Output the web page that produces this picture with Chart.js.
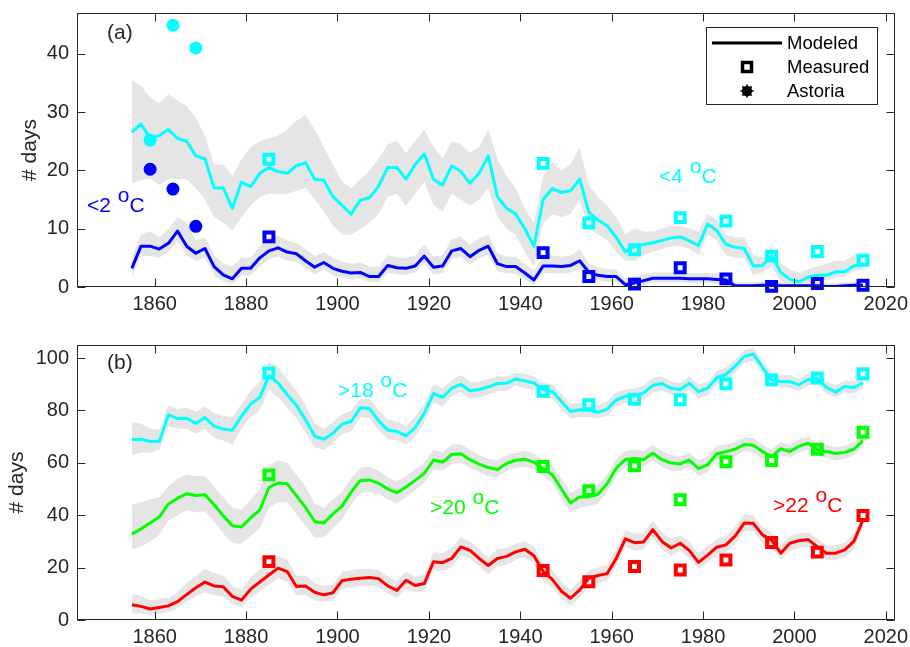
<!DOCTYPE html>
<html>
<head>
<meta charset="utf-8">
<script src="https://cdn.jsdelivr.net/npm/chart.js@4.4.1/dist/chart.umd.min.js"></script>
<style>
  html, body { margin: 0; padding: 0; background: #fff; }
  #wrap { position: relative; width: 910px; height: 647px; }
  canvas { position: absolute; left: 0; }
</style>
</head>
<body>
<div id="wrap">
  <canvas id="coldChart" width="910" height="320" style="top:0"></canvas>
  <canvas id="warmChart" width="910" height="327" style="top:320px"></canvas>
</div>
<script>
// modeled series, one value every second year
const years = [
  1855, 1857, 1859, 1861, 1863, 1865, 1867, 1869, 1871, 1873,
  1875, 1877, 1879, 1881, 1883, 1885, 1887, 1889, 1891, 1893,
  1895, 1897, 1899, 1901, 1903, 1905, 1907, 1909, 1911, 1913,
  1915, 1917, 1919, 1921, 1923, 1925, 1927, 1929, 1931, 1933,
  1935, 1937, 1939, 1941, 1943, 1945, 1947, 1949, 1951, 1953,
  1955, 1957, 1959, 1961, 1963, 1965, 1967, 1969, 1971, 1973,
  1975, 1977, 1979, 1981, 1983, 1985, 1987, 1989, 1991, 1993,
  1995, 1997, 1999, 2001, 2003, 2005, 2007, 2009, 2011, 2013,
  2015
];

// (a) days below 2 oC
const below2Mid = [
  3.2, 7, 7, 6.5, 7.5, 9.6, 7, 5.8, 6.6, 3.5,
  2.1, 1.4, 3.2, 3.2, 5, 6.2, 6.7, 6, 5.7, 4.5,
  3.4, 4.2, 3.2, 2.7, 2.4, 2.5, 1.8, 1.8, 3.7, 3.3,
  3.2, 3.6, 5.3, 3.4, 3.6, 6.2, 6.6, 5.2, 6.3, 7,
  4, 3.5, 3.5, 2.4, 1.2, 3.6, 3.6, 3.5, 3.7, 4.5,
  2.5, 2, 1.8, 1.8, 0.4, 0.7, 1.1, 1.5, 1.5, 1.5,
  1.5, 1.4, 1.4, 1.4, 1.3, 1.2, 0.2, 0.2, 0.2, 0.3,
  0.3, 0.2, 0.2, 0.2, 0.2, 0.2, 0.1, 0.1, 0.2, 0.3,
  0.3
];
const below2Hi = [
  4.9, 9, 9.5, 8.5, 10, 12, 11, 8, 8.5, 5.5,
  4, 3.5, 5, 5, 7, 8.5, 8.8, 8, 7.5, 6.5,
  5.3, 6, 5, 4.4, 4, 4.2, 3.5, 3.5, 5.5, 5,
  5, 5.4, 7.3, 5.2, 5.5, 8.2, 8.6, 7.2, 8.3, 9,
  5.8, 5.2, 5.2, 4, 2.8, 5.3, 5.4, 5.2, 5.4, 6.4,
  4, 3.4, 3.1, 3, 1.5, 1.8, 2.2, 2.5, 2.5, 2.5,
  2.5, 2.4, 2.4, 2.4, 2.3, 2.1, 0.8, 0.8, 0.8, 0.9,
  0.9, 0.8, 0.8, 0.8, 0.8, 0.8, 0.6, 0.6, 0.8, 0.9,
  0.9
];
const below2Lo = [
  1.8, 5.3, 5.3, 5, 6, 7.8, 5.5, 4.4, 5, 2,
  1, 0.5, 2, 2, 3.5, 4.8, 5.2, 4.5, 4.3, 3.2,
  2.2, 3, 2, 1.6, 1.3, 1.4, 0.9, 0.9, 2.5, 2.2,
  2.1, 2.5, 4, 2.2, 2.4, 4.8, 5.2, 3.9, 4.9, 5.5,
  2.7, 2.3, 2.3, 1.3, 0.3, 2.4, 2.4, 2.3, 2.5, 3.1,
  1.5, 1.1, 0.9, 0.9, 0, 0.1, 0.4, 0.8, 0.8, 0.8,
  0.8, 0.7, 0.7, 0.7, 0.6, 0.5, 0, 0, 0, 0,
  0, 0, 0, 0, 0, 0, 0, 0, 0, 0,
  0
];

// (a) days below 4 oC
const below4Mid = [
  26.5, 28, 25.5, 26, 27, 25.5, 25, 22.5, 22, 17,
  17, 13.5, 18, 17.2, 19.5, 20.5, 19.8, 19.5, 20.8, 21.3,
  18.5, 18.3, 15.5, 14, 12.5, 14.9, 15.3, 17.3, 20.5, 20.5,
  18.5, 21, 22.8, 18.5, 17.5, 20.8, 19.8, 17.8, 19.5, 22.5,
  15.5, 13.5, 12.5, 10, 7, 15, 16.9, 16.2, 16.5, 18.5,
  12.8, 11.5, 10.5, 8.5, 6, 7, 7.3, 7.6, 8, 8.4,
  8.6, 7.9, 7.1, 10.8, 9.7, 7.3, 6.8, 6.6, 3.6, 3.7,
  5.4, 2.5, 1.3, 0.9, 1.7, 2, 2, 2.6, 2.6, 3.6,
  4
];
const below4Hi = [
  35.5, 34.5, 32.5, 31.5, 33, 32, 31, 29, 26, 21,
  21, 19, 22, 24, 25, 25.5, 26, 27, 28.5, 29.5,
  27, 24, 21, 18, 17, 18.5, 20, 22, 24.5, 25,
  23, 25, 27, 24, 22, 25, 24.5, 23, 24, 27,
  22, 19, 17, 13.5, 11, 19, 21.5, 20, 21, 24,
  17.5, 15.5, 14, 12, 9, 10, 9.5, 9.5, 10, 10.5,
  10.5, 10, 9.5, 12.5, 11.5, 9, 8.5, 8.5, 5.5, 5,
  7, 4, 3, 2.5, 3, 3.5, 4, 4.5, 4.5, 5.5,
  5.8
];
const below4Lo = [
  17.8, 18.3, 18.6, 17.5, 18.5, 18.5, 18.5, 17, 15, 12,
  11, 9.7, 12, 14, 15.5, 16, 16, 16, 16.5, 17,
  15, 13, 10.5, 9, 9, 10, 11, 12.5, 15.5, 16,
  14, 16, 18, 14, 13, 16, 15, 14, 15, 17,
  12, 10, 9, 6, 3.5, 11, 12.5, 12, 12.5, 15,
  10, 9, 8, 6, 4.5, 4.5, 5.5, 6, 6.5, 7,
  7, 6.5, 5.5, 9, 8, 5.5, 5, 5, 2, 2.5,
  3.5, 1, 0.3, 0.3, 0.8, 1, 1.2, 1.6, 1.8, 2.7,
  3
];

// (b) days above 18 oC
const above18Mid = [
  68.8, 69, 68.2, 68.2, 78.3, 76.9, 77, 75, 77.3, 74,
  72.9, 72.5, 77.8, 82.4, 85, 93.2, 90.5, 86, 82, 76.5,
  70.2, 69, 71.3, 74.8, 75.8, 81, 80.8, 76, 72.5, 72,
  70.3, 73.5, 79, 86.5, 85, 88.5, 90, 87.5, 88, 89,
  90.3, 90.4, 92, 91.3, 90.5, 87.9, 87.3, 83.4, 79.6, 80.3,
  80.2, 79.3, 80.5, 84, 85.4, 85.6, 86.7, 89.6, 90.3, 88.5,
  88, 90.4, 87.2, 88.5, 92.5, 93.8, 96.8, 100.6, 101.5, 96.5,
  91.7, 91.1, 91, 89.8, 91.8, 92.2, 88.8, 87, 89.2, 88.7,
  90.6
];
const above18Hi = [
  75.5, 75, 73, 72.5, 82, 80.5, 81, 79.5, 81.5, 79,
  78, 77.5, 82.5, 87.5, 91, 98.5, 96.5, 92, 87.5, 82,
  75, 73, 75.5, 78.5, 80, 84.5, 84.5, 80, 76.5, 76,
  74, 77.5, 82.5, 90, 88.5, 91.5, 93.5, 91, 91, 92,
  93, 93, 94.5, 94, 93, 90.5, 90, 86.5, 82.5, 83,
  82.5, 82, 83.5, 87, 88, 88.5, 89.5, 92.5, 93, 91,
  90.5, 93, 90, 91, 95, 96.5, 99.5, 103, 104, 99,
  94.5, 93.5, 93.5, 92, 94, 94.5, 91, 89.5, 91.5, 91,
  93
];
const above18Lo = [
  63, 64, 64, 65, 74, 73, 73, 71, 73, 69.5,
  68.5, 67, 73, 77.5, 80, 88, 85, 81, 77, 71.5,
  66, 65, 67.5, 71, 72, 77.5, 77, 72.5, 69, 68.5,
  67, 70, 75.5, 83, 81.5, 85.5, 87, 84.5, 85, 86,
  87.5, 87.5, 89.5, 88.5, 88, 85, 84.5, 80.5, 77, 77.5,
  77.5, 77, 78, 81.5, 83, 83, 84, 87, 87.5, 86,
  85.5, 88, 84.5, 86, 90, 91, 94.5, 98, 99, 94,
  89.5, 89, 88.5, 87.5, 89.5, 90, 86.5, 85, 87, 86.5,
  88.5
];

// (b) days above 20 oC
const above20Mid = [
  32.8, 34.8, 37, 39.3, 44.3, 46.5, 48.2, 47.5, 47.8, 44,
  39.8, 36, 35.5, 39, 42, 50.6, 52.3, 52, 47.5, 43,
  37.6, 37, 40.5, 43.5, 48.8, 53.3, 53.5, 52.2, 50, 48.6,
  50.8, 53.3, 56, 61, 60.3, 63.2, 63.5, 61.2, 59.5, 58.2,
  57.5, 59.8, 61, 61.4, 60.2, 57.8, 55.5, 50, 44.7, 47,
  47.1, 48, 52, 58, 61.3, 61.7, 61.3, 63.7, 61.2, 59.9,
  59.6, 61.1, 57.8, 59.3, 63.5, 64.3, 65.2, 67, 66.7, 64.3,
  62.4, 65.4, 64.3, 66.4, 67.5, 65, 64.3, 63.6, 64, 65.2,
  68.5
];
const above20Hi = [
  44, 45, 46, 47, 51, 54, 55.5, 55, 55, 51,
  47, 43, 42, 46, 50, 59, 61, 60, 55.5, 51,
  44.5, 43, 46, 49, 54, 58, 58.5, 57, 54.5, 53,
  55, 57.5, 60, 65, 64, 67, 67, 65, 63, 61.5,
  61, 63, 64, 64.5, 63.5, 61, 59, 54, 48.5, 50.5,
  50.5, 51.5, 55.5, 61.5, 64.5, 65, 64.5, 67, 64.5, 63,
  62.5, 64, 61, 62.5, 66.5, 67, 68, 70, 69.5, 67,
  65, 68, 67, 69, 70, 67.5, 67, 66, 66.5, 68,
  71
];
const above20Lo = [
  27, 28, 30, 32.5, 38, 40, 42, 41, 41.5, 37.5,
  33, 29.5, 29, 32, 35, 43, 45, 45, 40.5, 36,
  31.5, 31.5, 35, 38.5, 44, 48.5, 49, 48, 46, 44.5,
  47, 49.5, 52.5, 57.5, 57, 59.5, 60, 58, 56.5, 55,
  54.5, 57, 58, 58.5, 57.5, 55, 52.5, 46.5, 41, 43,
  43.5, 44.5, 49, 55, 58.5, 59, 58.5, 61, 58.5, 57,
  57, 58.5, 55, 56.5, 61, 61.5, 62.5, 64.5, 64, 61.5,
  60, 63, 62, 64, 65, 62.5, 62, 61, 61.5, 63,
  66
];

// (b) days above 22 oC
const above22Mid = [
  5.8, 5.2, 4.2, 4.8, 5.4, 7, 9.7, 12.3, 14.5, 13,
  12.7, 9, 7.6, 11.8, 14.5, 17.2, 19.8, 18.5, 12.8, 13,
  10.6, 9.6, 10.4, 15, 15.6, 15.9, 16.2, 15.8, 13, 11.3,
  15.2, 13.2, 13.9, 22.2, 21.9, 23.5, 27.9, 26.6, 23.5, 20.8,
  23.5, 24.3, 26, 27, 24.5, 18.5, 15.5, 11, 8.3, 11.5,
  16, 17, 17.7, 23.5, 31, 29.5, 29.8, 34.5, 30, 27.5,
  29.3, 26.5, 22, 24.8, 27.8, 28.7, 32, 37, 36.9, 32.5,
  30.5, 25.5, 29.3, 30.3, 30.7, 28, 25.5, 25.5, 26.8, 30,
  38.2
];
const above22Hi = [
  10, 9, 7.5, 8, 8.5, 10.5, 14, 17, 19.5, 18,
  17, 13, 11.5, 16, 19.5, 22, 24.5, 23, 17, 17,
  14, 13, 13.5, 18.5, 19, 19.5, 19.5, 19, 16.5, 15,
  18.5, 16.5, 17.5, 26, 25.5, 27.5, 31.5, 30, 27, 24,
  27, 27.5, 29, 30, 28, 22, 19, 14.5, 11.5, 15,
  19, 20, 21, 27, 34.5, 33, 33, 38, 33.5, 31,
  32.5, 30, 25.5, 28, 31, 32, 35.5, 40.5, 40, 35.5,
  33.5, 28.5, 32, 33, 33.5, 31, 28.5, 28.5, 29.5, 33,
  41
];
const above22Lo = [
  2.5, 2.5, 2, 2.5, 3, 4.5, 7, 9, 10.5, 9.5,
  9, 6, 5, 8.5, 11, 13.5, 16, 14.5, 9.5, 9.5,
  7.5, 7, 7.5, 12, 12.5, 13, 13, 12.5, 10, 8.5,
  12, 10.5, 11, 19, 18.5, 20, 24.5, 23.5, 20.5, 17.5,
  20.5, 21, 23, 24, 21.5, 15, 12.5, 8, 5.5, 8.5,
  13, 14, 15, 20.5, 28, 26.5, 27, 31.5, 27, 24.5,
  26.5, 23.5, 19.5, 22, 25, 26, 29, 34, 34, 29.5,
  27.5, 23, 26.5, 27.5, 28, 25.5, 23, 23, 24, 27,
  35.5
];

// measured (squares) every ten years
const measuredYears = [1885, 1945, 1955, 1965, 1975, 1985, 1995, 2005, 2015];
const below2Measured = [8.6, 5.9, 1.8, 0.5, 3.3, 1.4, 0.1, 0.6, 0.3];
const below4Measured = [21.9, 21.2, 11, 6.4, 11.9, 11.3, 5.3, 6.1, 4.6];
const above18Measured = [94.3, 87.3, 82.2, 84.3, 84.1, 90.2, 91.7, 92.4, 94];
const above20Measured = [55.4, 58.6, 49.4, 58.9, 45.9, 60.4, 60.9, 65.2, 71.7];
const above22Measured = [22.3, 18.9, 14.6, 20.4, 19.1, 22.9, 29.6, 25.9, 39.9];

// Astoria (filled circles)
const astoriaYears = [1859, 1864, 1869];
const below2Astoria = [20.2, 16.8, 10.4];
const below4Astoria = [25.2, 44.9, 41];

const xTicks = [1860, 1880, 1900, 1920, 1940, 1960, 1980, 2000, 2020];

const FONT = "'Liberation Sans', Arial, Helvetica, sans-serif";
const INK = "#262626";
const BAND = "rgb(229, 229, 229)";
const CYAN = "#00ffff";
const BLUE = "#0000ff";
const GREEN = "#00ff00";
const RED = "#ff0000";

function pts(xs, ys) {
  return xs.map((x, i) => ({ x: x, y: ys[i] }));
}

function bandSets(lo, hi) {
  return [
    { data: pts(years, lo), showLine: true, borderWidth: 0, borderColor: "rgba(0,0,0,0)",
      pointRadius: 0, fill: false, order: 3 },
    { data: pts(years, hi), showLine: true, borderWidth: 0, borderColor: "rgba(0,0,0,0)",
      pointRadius: 0, fill: "-1", backgroundColor: BAND, order: 3 },
  ];
}

function lineSet(mid, color) {
  return { data: pts(years, mid), showLine: true, borderColor: color, borderWidth: 3,
    pointRadius: 0, fill: false, order: 2, borderJoinStyle: "round" };
}

function measuredSet(vals, color) {
  return { data: pts(measuredYears, vals), showLine: false, pointStyle: "rect",
    pointRadius: 6.3, pointBorderWidth: 4, pointBorderColor: color,
    pointBackgroundColor: "rgba(0,0,0,0)", order: 1, clip: false };
}

function astoriaSet(vals, color) {
  return { data: pts(astoriaYears, vals), showLine: false, pointStyle: "circle",
    pointRadius: 6.5, pointBorderWidth: 0, pointBackgroundColor: color,
    order: 1, clip: false };
}

// box round the plot with inward ticks on all four sides
const framePlugin = {
  id: "frame",
  afterDatasetsDraw(chart) {
    const { ctx, chartArea: a, scales } = chart;
    const L = Math.round(a.left) + 0.5, R = Math.round(a.right) - 0.5;
    const T = Math.round(a.top) + 0.5, B = Math.round(a.bottom) - 0.5;
    ctx.save();
    ctx.strokeStyle = INK;
    ctx.lineWidth = 1;
    ctx.strokeRect(L, T, R - L, B - T);
    ctx.beginPath();
    scales.x.ticks.forEach(t => {
      const px = Math.round(scales.x.getPixelForValue(t.value)) + 0.5;
      ctx.moveTo(px, B); ctx.lineTo(px, B - 8);
      ctx.moveTo(px, T); ctx.lineTo(px, T + 8);
    });
    scales.y.ticks.forEach(t => {
      const py = Math.round(scales.y.getPixelForValue(t.value)) + 0.5;
      ctx.moveTo(L, py); ctx.lineTo(L + 8, py);
      ctx.moveTo(R, py); ctx.lineTo(R - 8, py);
    });
    ctx.stroke();
    ctx.restore();
  }
};

// panel letters and the "<4 oC" style labels
function textPlugin(panel, labels) {
  return {
    id: "texts",
    afterDatasetsDraw(chart) {
      const ctx = chart.ctx;
      ctx.save();
      ctx.font = "21px " + FONT;
      ctx.textAlign = "left";
      ctx.fillStyle = INK;
      ctx.textBaseline = "middle";
      ctx.fillText(panel.text, panel.x, panel.y);
      ctx.textBaseline = "alphabetic";
      labels.forEach(lab => {
        let x = lab.x;
        ctx.fillStyle = lab.color;
        ctx.fillText(lab.pre, x, lab.y);
        x += ctx.measureText(lab.pre).width + 1;
        ctx.fillText("o", x, lab.y - 10);
        x += ctx.measureText("o").width;
        ctx.fillText("C", x, lab.y);
      });
      ctx.restore();
    }
  };
}

const legendPlugin = {
  id: "boxLegend",
  afterDraw(chart) {
    const ctx = chart.ctx;
    ctx.save();
    ctx.fillStyle = "#fff";
    ctx.strokeStyle = INK;
    ctx.lineWidth = 1;
    ctx.fillRect(706.5, 27.5, 171, 77);
    ctx.strokeRect(706.5, 27.5, 171, 77);

    ctx.strokeStyle = "#000";
    ctx.lineWidth = 3;
    ctx.beginPath();
    ctx.moveTo(712, 43); ctx.lineTo(782, 43);
    ctx.stroke();

    ctx.lineWidth = 3.5;
    ctx.strokeRect(742.5, 62.5, 9, 9);

    ctx.fillStyle = "#000";
    ctx.beginPath();
    ctx.arc(747, 91, 5.2, 0, Math.PI * 2);
    ctx.fill();
    ctx.lineWidth = 1.6;
    ctx.beginPath();
    for (let k = 0; k < 8; k++) {
      const ang = k * Math.PI / 4;
      ctx.moveTo(747, 91);
      ctx.lineTo(747 + 6.6 * Math.cos(ang), 91 + 6.6 * Math.sin(ang));
    }
    ctx.stroke();

    ctx.font = "18.5px " + FONT;
    ctx.textAlign = "left";
    ctx.textBaseline = "middle";
    ctx.fillText("Modeled", 787, 44);
    ctx.fillText("Measured", 787, 68);
    ctx.fillText("Astoria", 787, 92);
    ctx.restore();
  }
};

function makeOptions(yMax, yStep, leftPad, topPad, axisHeight) {
  return {
    responsive: false,
    maintainAspectRatio: false,
    animation: false,
    events: [],
    devicePixelRatio: 1,
    layout: { padding: { left: 0, right: 15, top: topPad, bottom: 0 } },
    plugins: { legend: { display: false }, tooltip: { enabled: false } },
    scales: {
      x: {
        type: "linear",
        min: 1843,
        max: 2022,
        afterBuildTicks: scale => { scale.ticks = xTicks.map(v => ({ value: v })); },
        ticks: {
          font: { family: FONT, size: 20 },
          color: INK,
          padding: 5,
          maxRotation: 0,
          autoSkip: false,
          callback: v => String(v),
        },
        grid: { display: false, drawTicks: false },
        border: { display: false },
        afterFit: scale => {
          scale.height = axisHeight;
          scale.paddingLeft = 0;
          scale.paddingRight = 0;
        },
      },
      y: {
        min: 0,
        max: yMax,
        ticks: {
          stepSize: yStep,
          includeBounds: false,
          font: { family: FONT, size: 20 },
          color: INK,
          padding: 8,
          callback: v => String(v),
        },
        grid: { display: false, drawTicks: false },
        border: { display: false },
        title: {
          display: true,
          text: "# days",
          color: INK,
          font: { family: FONT, size: 21 },
          padding: { top: leftPad, bottom: 0 },
        },
        afterFit: scale => {
          scale.width = 77;
          scale.paddingTop = 0;
          scale.paddingBottom = 0;
        },
      },
    },
  };
}

// Panel (a): cold days
new Chart(document.getElementById("coldChart"), {
  type: "scatter",
  data: {
    datasets: [
      ...bandSets(below4Lo, below4Hi),
      ...bandSets(below2Lo, below2Hi),
      lineSet(below4Mid, CYAN),
      lineSet(below2Mid, BLUE),
      measuredSet(below4Measured, CYAN),
      measuredSet(below2Measured, BLUE),
      astoriaSet(below4Astoria, CYAN),
      astoriaSet(below2Astoria, BLUE),
    ],
  },
  options: makeOptions(47, 10, 17.4, 13, 33),
  plugins: [
    framePlugin,
    textPlugin({ text: "(a)", x: 107, y: 33 }, [
      { pre: "<2 ", x: 87, y: 212, color: BLUE },
      { pre: "<4 ", x: 659, y: 183, color: CYAN },
    ]),
    legendPlugin,
  ],
});

// Panel (b): warm days
new Chart(document.getElementById("warmChart"), {
  type: "scatter",
  data: {
    datasets: [
      ...bandSets(above18Lo, above18Hi),
      ...bandSets(above20Lo, above20Hi),
      ...bandSets(above22Lo, above22Hi),
      lineSet(above18Mid, CYAN),
      lineSet(above20Mid, GREEN),
      lineSet(above22Mid, RED),
      measuredSet(above18Measured, CYAN),
      measuredSet(above20Measured, GREEN),
      measuredSet(above22Measured, RED),
    ],
  },
  options: makeOptions(105, 20, 5, 25, 27),
  plugins: [
    framePlugin,
    textPlugin({ text: "(b)", x: 107, y: 43 }, [
      { pre: ">18 ", x: 338, y: 77, color: CYAN },
      { pre: ">20 ", x: 430, y: 194, color: GREEN },
      { pre: ">22 ", x: 773, y: 192, color: RED },
    ]),
  ],
});
</script>
</body>
</html>
